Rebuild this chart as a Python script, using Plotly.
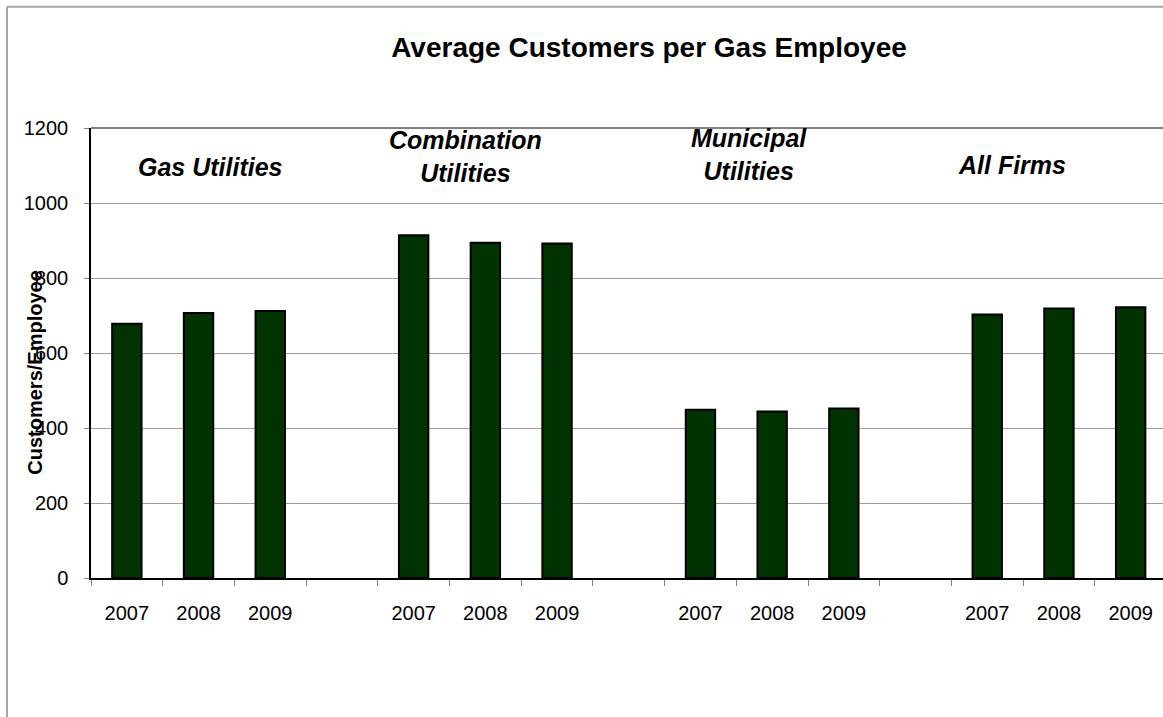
import plotly.graph_objects as go

# ---- data ----
group_names = ["Gas Utilities", "Combination Utilities", "Municipal Utilities", "All Firms"]
years = ["2007", "2008", "2009"]
gas_utilities = [678, 707, 712]
combination_utilities = [914, 894, 892]
municipal_utilities = [449, 444, 452]
all_firms = [703, 719, 722]

series = [gas_utilities, combination_utilities, municipal_utilities, all_firms]

# build positions: 3 bars per group, one empty slot between groups
xs, ys, labels = [], [], []
for g, vals in enumerate(series):
    for i, v in enumerate(vals):
        xs.append(g * 4 + i)
        ys.append(v)
        labels.append(years[i])

FONT = "Liberation Sans, Arial, sans-serif"

fig = go.Figure()
fig.add_trace(go.Bar(
    x=xs, y=ys, width=0.41,
    marker=dict(color="#003300", line=dict(color="#000000", width=2)),
    showlegend=False, hoverinfo="x+y",
))

L, T, B = 91, 128, 139
W, H = 1163, 717
plot_w = W - L
slot = 71.7
xmax = plot_w / slot - 0.5

boundaries = [i - 0.5 for i in range(16)]

fig.update_layout(
    width=W, height=H,
    margin=dict(l=L, r=0, t=T, b=B, pad=0),
    paper_bgcolor="white", plot_bgcolor="white",
    font=dict(family=FONT, color="black", size=20),
    title=dict(text="<b>Average Customers per Gas Employee</b>",
               x=649 / W, xanchor="center", y=1 - 47 / H, yanchor="middle",
               xref="container", yref="container",
               font=dict(size=28, family=FONT, color="black")),
    bargap=0.58,
)

fig.update_xaxes(
    range=[-0.5, xmax], showgrid=False, zeroline=False,
    tickmode="array", tickvals=xs, ticktext=labels,
    ticks="", ticklen=0, ticklabelstandoff=16,
    tickfont=dict(size=20, color="black"),
    showline=True, linecolor="#000000", linewidth=1.5,
    minor=dict(tickmode="array", tickvals=boundaries, ticks="outside",
               ticklen=6, tickcolor="#808080", tickwidth=1, showgrid=False),
)
fig.update_yaxes(
    range=[0, 1200], tickmode="linear", tick0=0, dtick=200,
    showgrid=True, gridcolor="#9e9e9e", gridwidth=1, zeroline=False,
    ticks="outside", ticklen=5, tickcolor="#808080",
    ticklabelstandoff=12,
    tickfont=dict(size=20, color="black"),
    showline=True, linecolor="#000000", linewidth=1.5,
)

# y-axis title as an annotation
fig.add_annotation(text="<b>Customers/Employee</b>", textangle=-90,
                   xref="paper", yref="paper",
                   x=(35 - L) / plot_w, y=(578.3 - 373) / 450,
                   xanchor="center", yanchor="middle", showarrow=False,
                   font=dict(size=20, family=FONT, color="black"))

# group labels
ann_pos = [
    ("<b><i>Gas Utilities</i></b>", 210, 167),
    ("<b><i>Combination</i></b><br><b><i>Utilities</i></b>", 465, 157),
    ("<b><i>Municipal</i></b><br><b><i>Utilities</i></b>", 749, 155),
    ("<b><i>All Firms</i></b>", 1012, 165),
]
for text, px, py in ann_pos:
    fig.add_annotation(text=text, xref="paper", yref="paper",
                       x=(px - L) / plot_w, y=(578.3 - py) / 450,
                       xanchor="center", yanchor="middle", showarrow=False,
                       align="center",
                       font=dict(size=25, family=FONT, color="black"))

# top plot border (darker) and outer chart border
fig.add_shape(type="line", xref="paper", yref="paper", x0=0, x1=1, y0=1, y1=1,
              line=dict(color="#808080", width=2))
fig.add_shape(type="line", xref="paper", yref="paper",
              x0=(7 - L) / plot_w, x1=(7 - L) / plot_w,
              y0=(578.3 - 7) / 450, y1=(578.3 - 720) / 450,
              line=dict(color="#a6a6a6", width=2))
fig.add_shape(type="line", xref="paper", yref="paper",
              x0=(7 - L) / plot_w, x1=1.01,
              y0=(578.3 - 7) / 450, y1=(578.3 - 7) / 450,
              line=dict(color="#a6a6a6", width=2))

fig.write_html("out.html", config={"displayModeBar": False},
               post_script="document.body.style.margin='0';document.body.style.overflow='hidden';")
